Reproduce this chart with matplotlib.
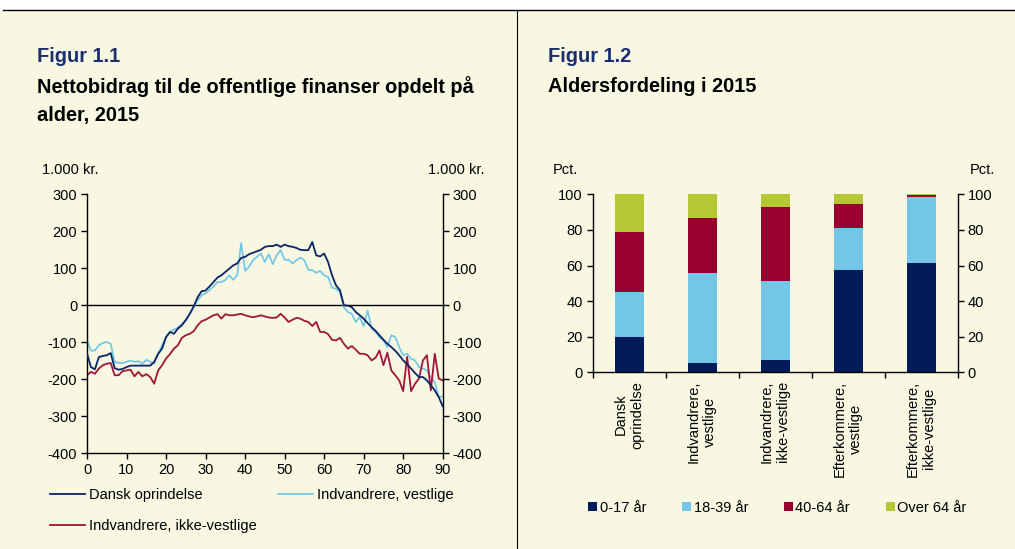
import matplotlib
matplotlib.use("Agg")
import matplotlib.pyplot as plt
from matplotlib.lines import Line2D
from matplotlib.patches import Rectangle
import numpy as np

plt.rcParams['font.family'] = ['Liberation Sans', 'DejaVu Sans']
plt.rcParams['axes.unicode_minus'] = False

# ---------------- data ----------------
ages = list(range(0, 91))
dansk = [-130, -167, -173, -140, -137, -135, -129, -170, -174, -172,
         -167, -163, -163, -163, -163, -163, -163, -153, -131, -117,
         -86, -72, -77, -63, -54, -40, -23, -3, 22, 38,
         40, 51, 63, 75, 81, 90, 99, 108, 113, 128,
         131, 138, 142, 146, 150, 158, 160, 160, 164, 158,
         164, 160, 158, 155, 150, 149, 149, 171, 135, 132,
         140, 117, 81, 54, 41, 0, -1, -5, -18, -27,
         -36, -48, -59, -69, -81, -93, -104, -113, -123, -135,
         -149, -159, -171, -183, -194, -194, -203, -216, -230, -248,
         -273]
vestlige = [-95, -123, -122, -108, -102, -99, -104, -153, -156, -156,
            -153, -149, -153, -151, -158, -147, -153, -158, -131, -108,
            -86, -72, -66, -60, -51, -39, -23, -5, 14, 27,
            32, 41, 51, 63, 63, 68, 81, 69, 81, 168,
            93, 104, 122, 131, 140, 117, 138, 111, 135, 149,
            123, 123, 113, 122, 129, 122, 96, 95, 88, 93,
            81, 77, 48, 45, 36, -6, -18, -23, -45, -32,
            -56, -14, -63, -72, -86, -95, -113, -81, -86, -113,
            -135, -131, -144, -149, -167, -171, -176, -194, -207, -248,
            -246]
ikke_vestlige = [-189, -180, -185, -171, -162, -158, -156, -189, -189, -178,
                 -176, -174, -192, -180, -192, -186, -194, -212, -176, -162,
                 -144, -132, -117, -108, -88, -81, -77, -70, -54, -43,
                 -39, -33, -27, -24, -36, -24, -27, -27, -25, -23,
                 -27, -30, -32, -30, -27, -30, -33, -34, -33, -23,
                 -33, -45, -39, -34, -36, -42, -45, -56, -45, -72,
                 -72, -78, -93, -95, -88, -104, -117, -110, -120, -131,
                 -131, -135, -149, -142, -122, -162, -128, -176, -189, -203,
                 -232, -139, -232, -212, -198, -149, -135, -230, -131, -198,
                 -203]
line_names = ["Dansk oprindelse", "Indvandrere, vestlige", "Indvandrere, ikke-vestlige"]

bar_categories = ["Dansk\noprindelse", "Indvandrere,\nvestlige", "Indvandrere,\nikke-vestlige",
                  "Efterkommere,\nvestlige", "Efterkommere,\nikke-vestlige"]
age_0_17 = [20.0, 5.2, 6.9, 57.3, 61.2]
age_18_39 = [25.1, 50.4, 44.4, 23.6, 37.1]
age_40_64 = [33.9, 30.9, 41.8, 13.7, 1.4]
age_over_64 = [21.0, 13.5, 6.9, 5.4, 0.3]
bar_names = ["0-17 år", "18-39 år", "40-64 år", "Over 64 år"]

line_ticks_y = [-400, -300, -200, -100, 0, 100, 200, 300]
line_ticks_x = [0, 10, 20, 30, 40, 50, 60, 70, 80, 90]
bar_ticks_y = [0, 20, 40, 60, 80, 100]

# ---------------- style ----------------
BG = '#F8F7E1'
NAVY = '#0A2466'
LBLUE = '#6EC5E9'
RED = '#A0153A'
BAR_NAVY = '#021C5A'
BAR_LBLUE = '#73C6E6'
BAR_RED = '#980030'
BAR_GREEN = '#B3C833'
TITLE_BLUE = '#1B2E6E'
FS = 10.5
TFS = 14.4

W, H = 1015, 549
fig = plt.figure(figsize=(W / 100, H / 100), dpi=100, facecolor=BG)

def fx(px):
    return px / W

def fy(py):
    return 1 - py / H

# white strip on top + frame lines
fig.patches.append(Rectangle((0, fy(9.5)), 1, 1 - fy(9.5), transform=fig.transFigure,
                             facecolor='white', edgecolor='none', zorder=0))
fig.add_artist(Line2D([fx(3), 1], [fy(9.5), fy(9.5)], color='black', lw=1.0))
fig.add_artist(Line2D([fx(517), fx(517)], [0, fy(9.5)], color='black', lw=0.8))

# titles
fig.text(fx(37), fy(57), "Figur 1.1", fontsize=TFS, fontweight='bold', color=TITLE_BLUE,
         va='center', ha='left')
fig.text(fx(37), fy(87), "Nettobidrag til de offentlige finanser opdelt på", fontsize=TFS,
         fontweight='bold', color='black', va='center', ha='left')
fig.text(fx(37), fy(116), "alder, 2015", fontsize=TFS, fontweight='bold', color='black',
         va='center', ha='left')
fig.text(fx(548), fy(57), "Figur 1.2", fontsize=TFS, fontweight='bold', color=TITLE_BLUE,
         va='center', ha='left')
fig.text(fx(548), fy(87), "Aldersfordeling i 2015", fontsize=TFS, fontweight='bold',
         color='black', va='center', ha='left')

fig.text(fx(42), fy(170), "1.000 kr.", fontsize=FS, va='center', ha='left')
fig.text(fx(484), fy(170), "1.000 kr.", fontsize=FS, va='center', ha='right')
fig.text(fx(553), fy(170), "Pct.", fontsize=FS, va='center', ha='left')
fig.text(fx(995), fy(170), "Pct.", fontsize=FS, va='center', ha='right')

# ---------------- line chart ----------------
ax1 = fig.add_axes([fx(87), fy(453.3), fx(442.7 - 87), (453.3 - 194.3) / H])
ax1.set_facecolor('none')
ax1.axhline(0, color='black', lw=1.0, zorder=1)
l1, = ax1.plot(ages, dansk, color=NAVY, lw=1.3, zorder=3)
l2, = ax1.plot(ages, vestlige, color=LBLUE, lw=1.2, zorder=2)
l3, = ax1.plot(ages, ikke_vestlige, color=RED, lw=1.3, zorder=2)
ax1.set_xlim(0, 90)
ax1.set_ylim(-400, 300)
ax1.set_xticks(line_ticks_x)
ax1.set_yticks(line_ticks_y)
ax1.spines['top'].set_visible(False)
for s in ['left', 'right', 'bottom']:
    ax1.spines[s].set_linewidth(1.0)
ax1.tick_params(axis='both', direction='out', length=4, width=1.0, labelsize=FS, pad=3)
ax1.tick_params(axis='y', right=True, labelright=True)

ax1.legend([l1, l3, l2], [line_names[0], line_names[2], line_names[1]], ncol=2,
           loc='upper left', bbox_to_anchor=(fx(50), fy(488)), bbox_transform=fig.transFigure,
           frameon=False, fontsize=FS, handlelength=2.4, handletextpad=0.25,
           columnspacing=1.5, labelspacing=1.15, borderpad=0, borderaxespad=0)

# ---------------- bar chart ----------------
ax2 = fig.add_axes([fx(592.7), fy(372.3), fx(957.7 - 592.7), (372.3 - 194.3) / H])
ax2.set_facecolor('none')
x = np.arange(len(bar_categories))
bottom = np.zeros(len(x))
series = [age_0_17, age_18_39, age_40_64, age_over_64]
colors = [BAR_NAVY, BAR_LBLUE, BAR_RED, BAR_GREEN]
handles = []
for vals, c, name in zip(series, colors, bar_names):
    b = ax2.bar(x, vals, bottom=bottom, width=0.4, color=c, edgecolor='none', label=name, zorder=2)
    handles.append(b)
    bottom = bottom + np.array(vals)
ax2.set_xlim(-0.5, len(x) - 0.5)
ax2.set_ylim(0, 100)
ax2.set_yticks(bar_ticks_y)
ax2.set_xticks(np.arange(len(x) + 1) - 0.5)
ax2.set_xticklabels([])
ax2.set_xticks(x, minor=True)
ax2.set_xticklabels(bar_categories, minor=True, rotation=90, multialignment='center',
                    fontsize=FS, va='top', ha='center')
ax2.tick_params(axis='x', which='minor', length=0, pad=6)
ax2.tick_params(axis='x', which='major', length=4, width=1.0)
ax2.spines['top'].set_visible(False)
for s in ['left', 'right', 'bottom']:
    ax2.spines[s].set_linewidth(1.0)
ax2.tick_params(axis='y', direction='out', length=4, width=1.0, labelsize=FS, pad=3,
                right=True, labelright=True)

ax2.legend(handles, bar_names, ncol=4, loc='center left',
           bbox_to_anchor=(fx(588), fy(508)), bbox_transform=fig.transFigure,
           frameon=False, fontsize=FS, handlelength=0.6, handleheight=0.6,
           handletextpad=0.2, columnspacing=2.45, borderpad=0, borderaxespad=0)

fig.savefig("out.png", dpi=100, facecolor=BG)
